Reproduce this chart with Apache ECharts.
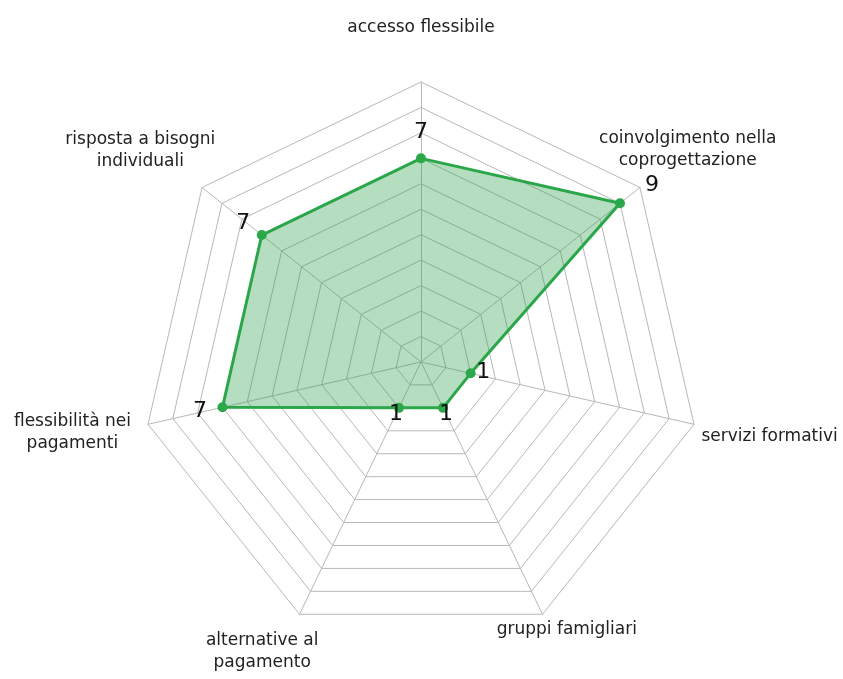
<!DOCTYPE html>
<html>
<head>
<meta charset="utf-8">
<script src="https://cdn.jsdelivr.net/npm/echarts@6/dist/echarts.min.js"></script>
<style>
  html, body { margin: 0; padding: 0; background: #fff; }
  #chart { width: 843px; height: 679px; }
</style>
</head>
<body>
<div id="chart"></div>
<script>
// indicators listed counter-clockwise from the top (ECharts radar order)
const categories = [
  'accesso flessibile',
  'risposta a bisogni\nindividuali',
  'flessibilità nei\npagamenti',
  'alternative al\npagamento',
  'gruppi famigliari',
  'servizi formativi',
  'coinvolgimento nella\ncoprogettazione'
]
const values = [7, 7, 7, 1, 1, 1, 9]
const axisMin = -1
const axisMax = 10

// where each value label sits around its point
const labelPos = ['top', 'left', 'left', 'bottom', 'bottom', 'right', 'top']
const labelOffset = [[0, -10], [-6, -12], [-10, 4], [-3, -10], [3, -10], [0, -1], [32, -2]]
// small nudges [dx, dy] for the axis names
const nameShift = [[0, 2], [-18, -2], [-21, -4], [-13, -13], [0, -35], [21, 0], [4, -3]]
const lineGap = 5

const myChart = echarts.init(document.getElementById('chart'))

const green = '#2ba84a'

const labelSeries = categories.map((c, i) => ({
  type: 'radar',
  silent: true,
  symbol: 'circle',
  symbolSize: 1,
  itemStyle: { color: 'rgba(0,0,0,0)' },
  lineStyle: { opacity: 0 },
  z: 5,
  label: {
    show: true,
    position: labelPos[i],
    offset: labelOffset[i],
    fontSize: 22,
    fontFamily: 'DejaVu Sans',
    color: '#111',
    formatter: function (p) {
      return p.dimensionIndex === i ? String(values[i]) : ''
    }
  },
  data: [{ value: values }]
}))

// rich styles: padding moves each name by its shift
const rich = {}
nameShift.forEach((s, i) => {
  const dx = s[0], dy = s[1]
  const base = { align: 'center', fontSize: 17, fontFamily: 'DejaVu Sans', color: '#222' }
  const left = Math.max(0, 2 * dx), right = Math.max(0, -2 * dx)
  const up = Math.max(0, -2 * dy), down = Math.max(0, 2 * dy)
  rich['f' + i] = Object.assign({}, base, { padding: [down, right, lineGap, left] })
  rich['l' + i] = Object.assign({}, base, { padding: [0, right, up, left] })
  rich['o' + i] = Object.assign({}, base, { padding: [down, right, up, left] })
})

const option = {
  animation: false,
  backgroundColor: '#fff',
  radar: {
    center: [421, 362],
    radius: 280,
    startAngle: 90,
    splitNumber: axisMax - axisMin,
    shape: 'polygon',
    indicator: categories.map(name => ({ name: name, min: axisMin, max: axisMax })),
    axisName: {
      color: '#222',
      fontSize: 17,
      fontFamily: 'DejaVu Sans',
      align: 'center',
      verticalAlign: 'middle',
      formatter: function (name) {
        const i = categories.indexOf(name)
        const lines = name.split('\n')
        if (lines.length === 1) return '{o' + i + '|' + name + '}'
        return '{f' + i + '|' + lines[0] + '}\n{l' + i + '|' + lines[1] + '}'
      },
      rich: rich
    },
    nameGap: 56,
    axisLine: { lineStyle: { color: '#b8b8b8', width: 1 } },
    splitLine: { lineStyle: { color: '#b8b8b8', width: 1 } },
    splitArea: { show: false }
  },
  series: [
    {
      type: 'radar',
      symbol: 'circle',
      symbolSize: 10,
      itemStyle: { color: green },
      lineStyle: { color: green, width: 3 },
      areaStyle: { color: 'rgba(44,162,77,0.5)' },
      data: [{ value: values }]
    }
  ].concat(labelSeries)
}

myChart.setOption(option)
</script>
</body>
</html>
